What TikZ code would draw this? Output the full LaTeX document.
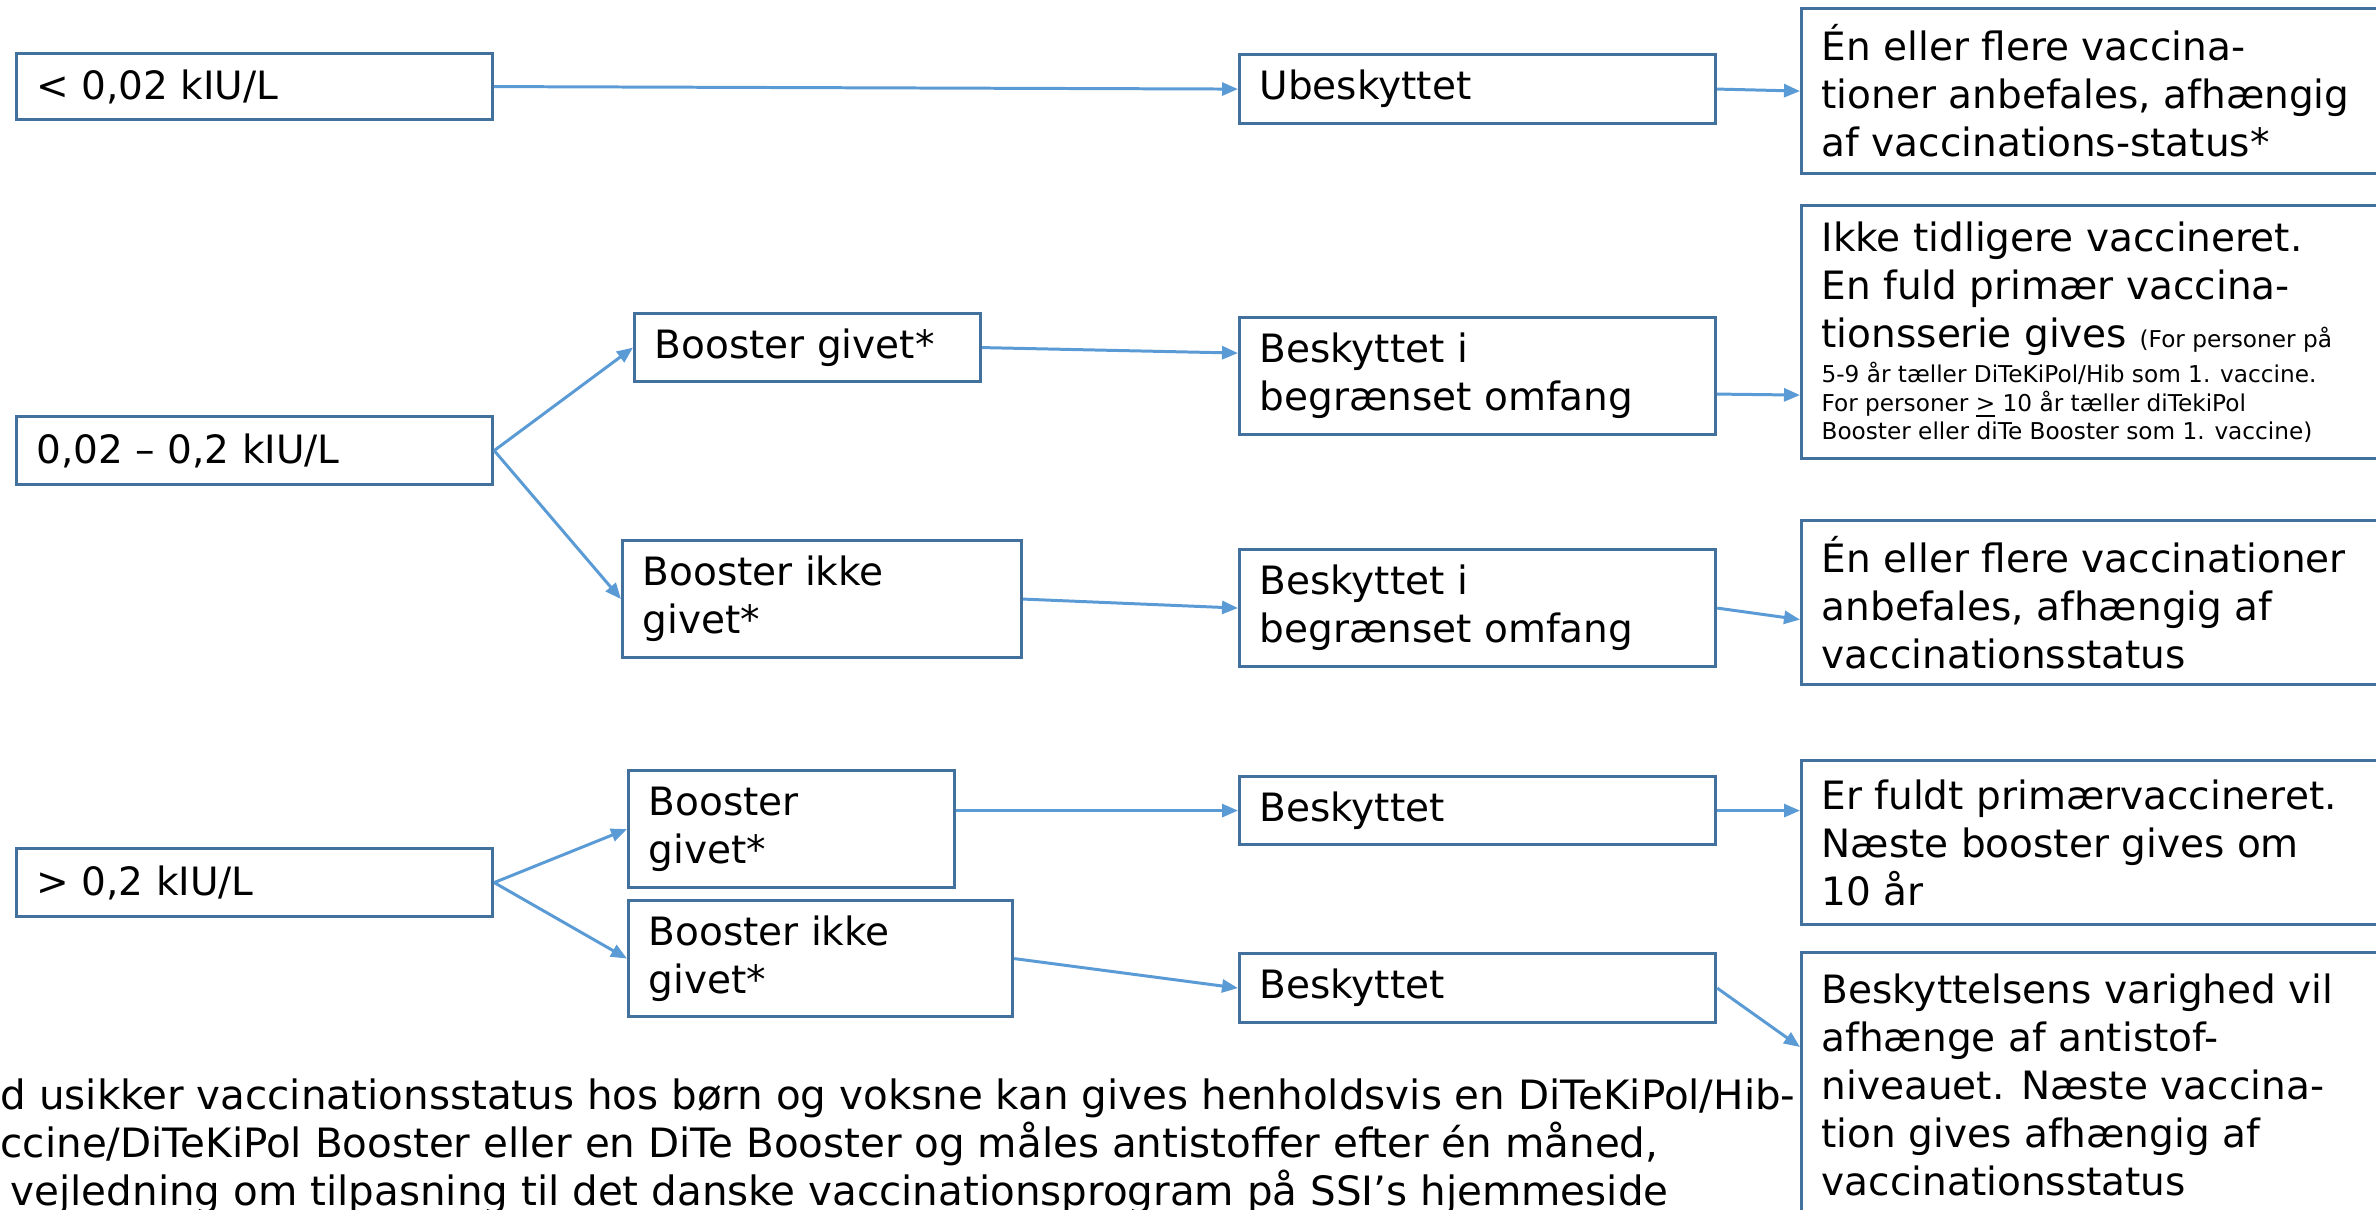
\documentclass[tikz,border=0pt]{standalone}
\usepackage{fontspec}
\setmainfont{DejaVu Sans}
\usetikzlibrary{
  arrows.meta,  % Tip "Triangle"
}
\definecolor{boxblue}{HTML}{41719C}
\definecolor{lineblue}{HTML}{5B9BD5}
\newcommand{\boxfont}{\fontsize{11.1}{13.66}\selectfont}
\newcommand{\notefont}{\fontsize{6.6}{8.1}\selectfont}
\newcommand{\footfont}{\fontsize{11.5}{13.66}\selectfont}
\def\mytw{4.36cm}
\def\mywide{5.8cm}
\tikzset{
  font=\boxfont,
  >={Triangle[length=1.6mm,width=1.3mm]},
  my box/.style={
    draw=boxblue,
    line width=0.9pt,
    anchor=north west,
    align=flush left,
    inner xsep=2mm,
    inner ysep=0mm
  },
  my link/.style={
    ->,
    draw=lineblue,
    line width=0.85pt
  }
}

\begin{document}
\begin{tikzpicture}
\useasboundingbox (0,0) rectangle (23.76,-12.10);
% levels
\node[my box,text width=\mytw,minimum height=0.66cm] (lo)  at (0.15,-0.52) {< 0,02 kIU/L};
\node[my box,text width=\mytw,minimum height=0.68cm] (mid) at (0.15,-4.15) {0,02 – 0,2 kIU/L};
\node[my box,text width=\mytw,minimum height=0.68cm] (hi)  at (0.15,-8.47) {> 0,2 kIU/L};
% booster
\node[my box,text width=3.06cm,minimum height=0.68cm] (gv1) at (6.33,-3.12) {Booster givet*};
\node[my box,text width=3.59cm,minimum height=1.17cm] (ik1) at (6.21,-5.39) {Booster ikke\\givet*};
\node[my box,text width=2.86cm,minimum height=1.17cm] (gv2) at (6.27,-7.69) {Booster\\givet*};
\node[my box,text width=3.44cm,minimum height=1.16cm] (ik2) at (6.27,-8.99) {Booster ikke\\givet*};
% protection
\node[my box,text width=\mytw,minimum height=0.69cm] (ub)  at (12.38,-0.53) {Ubeskyttet};
\node[my box,text width=\mytw,minimum height=1.17cm] (bb1) at (12.38,-3.16) {Beskyttet i\\begrænset omfang};
\node[my box,text width=\mytw,minimum height=1.17cm] (bb2) at (12.38,-5.48) {Beskyttet i\\begrænset omfang};
\node[my box,text width=\mytw,minimum height=0.68cm] (bs1) at (12.38,-7.75) {Beskyttet};
\node[my box,text width=\mytw,minimum height=0.69cm] (bs2) at (12.38,-9.52) {Beskyttet};
% advice (cut off at the right)
\node[my box,text width=\mywide,minimum height=1.65cm] (r1) at (18.00,-0.07)
  {Én eller flere vaccina-\\tioner anbefales, afhængig\\af vaccinations-status*};
\node[my box,text width=\mywide,minimum height=2.53cm] (r2) at (18.00,-2.04)
  {Ikke tidligere vaccineret.\\En fuld primær vaccina-\\tionsserie gives {\notefont (For personer på}\par
   \vspace{1pt}\notefont 5-9 år tæller DiTeKiPol/Hib som 1. vaccine.\\
   For personer \raisebox{0pt}[\height][0pt]{\underline{>}} 10 år tæller diTekiPol\\
   Booster eller diTe Booster som 1. vaccine)\par};
\node[my box,text width=\mywide,minimum height=1.64cm] (r3) at (18.00,-5.19)
  {Én eller flere vaccinationer\\anbefales, afhængig af\\vaccinationsstatus};
\node[my box,text width=\mywide,minimum height=1.64cm] (r4) at (18.00,-7.59)
  {Er fuldt primærvaccineret.\\Næste booster gives om\\10 år};
\node[my box,text width=\mywide,minimum height=2.64cm] (r5) at (18.00,-9.51)
  {Beskyttelsens varighed vil\\afhænge af antistof-\\niveauet. Næste vaccina-\\tion gives afhængig af\\vaccinationsstatus};
% footnote
\node[anchor=north west,align=left,inner sep=0pt,font=\footfont] (note) at (0,-10.78)
  {d usikker vaccinationsstatus hos børn og voksne kan gives henholdsvis en DiTeKiPol/Hib-\\
   ccine/DiTeKiPol Booster eller en DiTe Booster og måles antistoffer efter én måned,\\
   \hspace*{0.1cm}vejledning om tilpasning til det danske vaccinationsprogram på SSI’s hjemmeside};
% links
\path[my link] (lo.east)  -- (ub.west);
\path[my link] (ub.east)  -- (r1.west);
\path[my link] (mid.east) -- (gv1.west);
\path[my link] (mid.east) -- (ik1.west);
\path[my link] (gv1.east) -- ([yshift=0.23cm]bb1.west);
\path[my link] ([yshift=-0.18cm]bb1.east) -- ([yshift=-0.63cm]r2.west);
\path[my link] (ik1.east) -- (bb2.west);
\path[my link] (bb2.east) -- ([yshift=-0.17cm]r3.west);
\path[my link] (hi.east)  -- (gv2.west);
\path[my link] (hi.east)  -- (ik2.west);
\path[my link] (bs1.west -| gv2.east) -- (bs1.west);
\path[my link] (ik2.east) -- (bs2.west);
\path[my link] (bs1.east) -- (bs1.east -| r4.west);
\path[my link] (bs2.east) -- ([yshift=-0.96cm]r5.north west);
\end{tikzpicture}
\end{document}
